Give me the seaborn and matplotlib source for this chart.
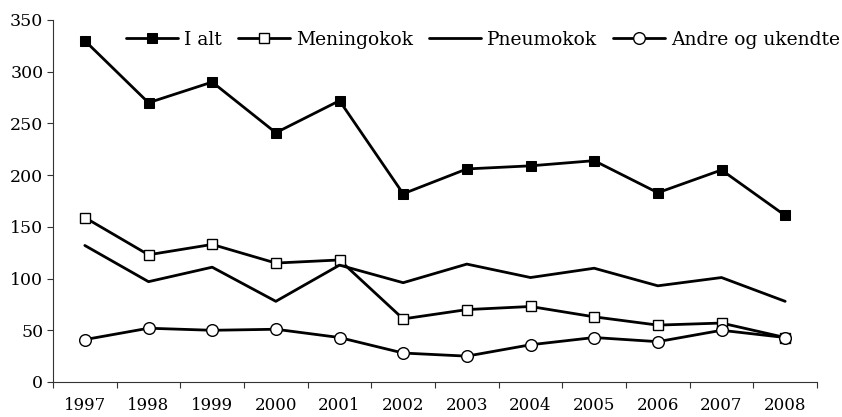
import pandas as pd
import numpy as np
import matplotlib
matplotlib.use("Agg")
import matplotlib.pyplot as plt
import seaborn as sns

# Data
years = ['1997', '1998', '1999', '2000', '2001', '2002',
         '2003', '2004', '2005', '2006', '2007', '2008']
i_alt = [330, 270, 290, 241, 272, 182, 206, 209, 214, 183, 205, 161]
meningokok = [159, 123, 133, 115, 118, 61, 70, 73, 63, 55, 57, 43]
pneumokok = [132, 97, 111, 78, 113, 96, 114, 101, 110, 93, 101, 78]
andre = [41, 52, 50, 51, 43, 28, 25, 36, 43, 39, 50, 43]

series = {
    'I alt': i_alt,
    'Meningokok': meningokok,
    'Pneumokok': pneumokok,
    'Andre og ukendte': andre,
}

sns.set_style("ticks")
plt.rcParams['font.family'] = ['DejaVu Serif']
plt.rcParams['text.color'] = 'black'
plt.rcParams['xtick.color'] = 'black'
plt.rcParams['ytick.color'] = 'black'

fig = plt.figure(figsize=(8.42, 4.17), dpi=100)
ax = fig.add_axes([53 / 842, 35 / 417, (817 - 53) / 842, (382 - 20) / 417])

styles = {
    'I alt': dict(marker='s', markersize=10, markerfacecolor='black', markeredgecolor='black'),
    'Meningokok': dict(marker='s', markersize=11, markerfacecolor='white', markeredgecolor='black', markeredgewidth=1),
    'Pneumokok': dict(marker=None),
    'Andre og ukendte': dict(marker='o', markersize=12, markerfacecolor='white', markeredgecolor='black', markeredgewidth=1),
}

x = np.arange(len(years))
for name, vals in series.items():
    df = pd.DataFrame({'x': x, 'y': vals})
    sns.lineplot(data=df, x='x', y='y', ax=ax, color='black', linewidth=2.0,
                 label=name, **styles[name])

ax.set_xlim(-0.5, len(years) - 0.5)
ax.set_ylim(0, 350)
ax.set_yticks(range(0, 351, 50))
ax.set_xticks(np.arange(-0.5, len(years), 1.0))
ax.set_xticklabels([])
ax.set_xticks(x, minor=True)
ax.set_xticklabels(years, minor=True)
ax.tick_params(axis='x', which='major', direction='out', length=4, width=0.8, color='#333333')
ax.tick_params(axis='x', which='minor', length=0, pad=11, labelsize=12, labelcolor='black')
ax.tick_params(axis='y', direction='out', length=4, width=0.8, color='#333333',
               labelsize=12.5, pad=3, labelcolor='black')
ax.set_xlabel('')
ax.set_ylabel('')
sns.despine(ax=ax)
for s in ['left', 'bottom']:
    ax.spines[s].set_color('#333333')
    ax.spines[s].set_linewidth(0.8)

handles, labels = ax.get_legend_handles_labels()
for h in handles:
    if h.get_marker() not in (None, 'None', ''):
        h.set_markersize(h.get_markersize() * 0.7)
leg = ax.legend(handles, labels, ncol=4, frameon=False, loc='upper right',
                bbox_to_anchor=(840 / 842, 1 - 31 / 417), bbox_transform=fig.transFigure,
                fontsize=13.5, handlelength=2.8, handletextpad=0.3, columnspacing=0.85,
                borderaxespad=0, borderpad=0)
for t in leg.get_texts():
    t.set_color('black')

fig.savefig('out.png', dpi=100)
